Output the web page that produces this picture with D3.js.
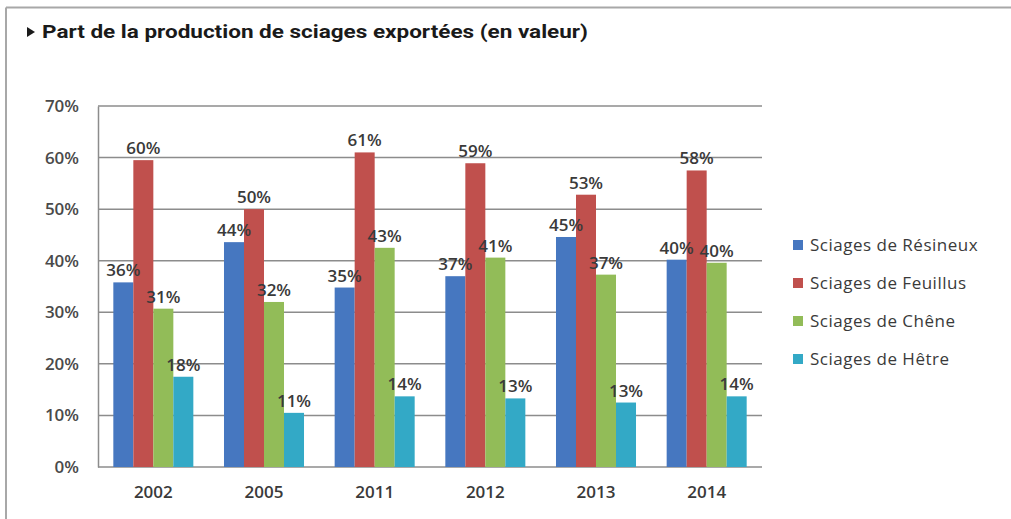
<!DOCTYPE html>
<html>
<head>
  <meta charset="utf-8">
  <title>Part de la production de sciages exportées</title>
  <script src="https://d3js.org/d3.v7.min.js"></script>
  <style>
    body { margin: 0; background: #fff; }
    svg { display: block; }
  </style>
</head>
<body>
  <div id="container"></div>
  <script>
  // data (percent)
  var years = ['2002', '2005', '2011', '2012', '2013', '2014'];
  var series = ['Sciages de Résineux', 'Sciages de Feuillus', 'Sciages de Chêne', 'Sciages de Hêtre'];
  var resineux = [35.8, 43.6, 34.8, 37.0, 44.6, 40.2];
  var feuillus = [59.5, 50.0, 61.0, 58.9, 52.8, 57.5];
  var chene = [30.7, 32.0, 42.5, 40.6, 37.3, 39.6];
  var hetre = [17.5, 10.5, 13.7, 13.3, 12.5, 13.7];
  var yTicks = [0, 10, 20, 30, 40, 50, 60, 70];
  var colors = ['#4677c0', '#c0504d', '#92bc58', '#33a9c6'];

  var width = 1011,
    height = 519;
  var margin = { top: 106, bottom: 52, left: 98, right: 249 };

  var values = [resineux, feuillus, chene, hetre];

  var svg = d3.select('#container')
    .append('svg')
    .attr('width', width)
    .attr('height', height);

  // frame
  svg.append('line')
    .attr('x1', 6).attr('x2', width)
    .attr('y1', 7.5).attr('y2', 7.5)
    .attr('stroke', '#a8a8a8')
    .attr('stroke-width', 2);
  svg.append('line')
    .attr('x1', 6).attr('x2', 6)
    .attr('y1', 7.5).attr('y2', height)
    .attr('stroke', '#a8a8a8')
    .attr('stroke-width', 2);

  // title
  svg.append('path')
    .attr('d', 'M27,27 L35,32 L27,37 Z')
    .attr('fill', '#1a1a1a');
  svg.append('text')
    .attr('x', 42)
    .attr('y', 38)
    .attr('textLength', 546)
    .attr('lengthAdjust', 'spacingAndGlyphs')
    .style('font-family', 'Roboto')
    .style('font-weight', '700')
    .style('font-size', '18px')
    .attr('fill', '#1a1a1a')
    .text('Part de la production de sciages exportées (en valeur)');

  var x0 = d3.scaleBand()
    .domain(years)
    .range([margin.left, width - margin.right])
    .paddingInner(0.277)
    .paddingOuter(0.1385);

  var x1 = d3.scaleBand()
    .domain(series)
    .range([0, x0.bandwidth()]);

  var y = d3.scaleLinear()
    .domain([0, 70])
    .range([height - margin.bottom, margin.top]);

  // gridlines
  svg.append('g')
    .selectAll('line')
    .data(yTicks)
    .enter()
    .append('line')
    .attr('x1', margin.left)
    .attr('x2', width - margin.right)
    .attr('y1', function(d) { return y(d); })
    .attr('y2', function(d) { return y(d); })
    .attr('stroke', '#8c8c8c')
    .attr('stroke-width', 1.5);

  // y axis
  var yAxis = svg.append('g')
    .attr('transform', 'translate(' + margin.left + ',0)')
    .call(d3.axisLeft(y).tickValues(yTicks).tickSize(0).tickPadding(19)
      .tickFormat(function(d) { return d + '%'; }));
  yAxis.select('.domain').attr('stroke', '#8c8c8c').attr('stroke-width', 1.5);
  yAxis.selectAll('text')
    .style('font-family', 'Open Sans')
    .style('font-size', '17px')
    .style('font-weight', '600')
    .attr('fill', '#4a4a4a');

  // x axis
  var xAxis = svg.append('g')
    .attr('transform', 'translate(0,' + y(0) + ')')
    .call(d3.axisBottom(x0).tickSize(0).tickPadding(19));
  xAxis.select('.domain').remove();
  xAxis.selectAll('text')
    .style('font-family', 'Open Sans')
    .style('font-size', '17px')
    .style('font-weight', '600')
    .attr('fill', '#3a3a3a');

  // bars
  var groups = svg.append('g')
    .selectAll('g')
    .data(years)
    .enter()
    .append('g')
    .attr('transform', function(d) { return 'translate(' + x0(d) + ',0)'; });

  groups.selectAll('rect')
    .data(function(d, i) {
      return series.map(function(s, j) { return { s: s, j: j, v: values[j][i] }; });
    })
    .enter()
    .append('rect')
    .attr('x', function(d) { return x1(d.s); })
    .attr('y', function(d) { return y(d.v); })
    .attr('width', x1.bandwidth())
    .attr('height', function(d) { return y(0) - y(d.v); })
    .attr('fill', function(d) { return colors[d.j]; });

  groups.selectAll('text')
    .data(function(d, i) {
      return series.map(function(s, j) { return { s: s, j: j, v: values[j][i] }; });
    })
    .enter()
    .append('text')
    .attr('x', function(d) { return x1(d.s) + x1.bandwidth() / 2; })
    .attr('y', function(d) { return y(d.v) - 6; })
    .attr('text-anchor', 'middle')
    .style('font-family', 'Open Sans')
    .style('font-size', '17px')
    .style('font-weight', '600')
    .attr('fill', '#3a3a3a')
    .text(function(d) { return Math.round(d.v) + '%'; });

  // legend
  var legend = svg.append('g')
    .selectAll('g')
    .data(series)
    .enter()
    .append('g')
    .attr('transform', function(d, i) { return 'translate(793,' + (245 + i * 38) + ')'; });

  legend.append('rect')
    .attr('x', 0)
    .attr('y', -5)
    .attr('width', 10)
    .attr('height', 10)
    .attr('fill', function(d, i) { return colors[i]; });

  legend.append('text')
    .attr('x', 17)
    .attr('y', 6)
    .style('font-family', 'Open Sans')
    .style('font-size', '17px')
    .style('letter-spacing', '0.5px')
    .attr('fill', '#3a3a3a')
    .text(function(d) { return d; });
  </script>
</body>
</html>
